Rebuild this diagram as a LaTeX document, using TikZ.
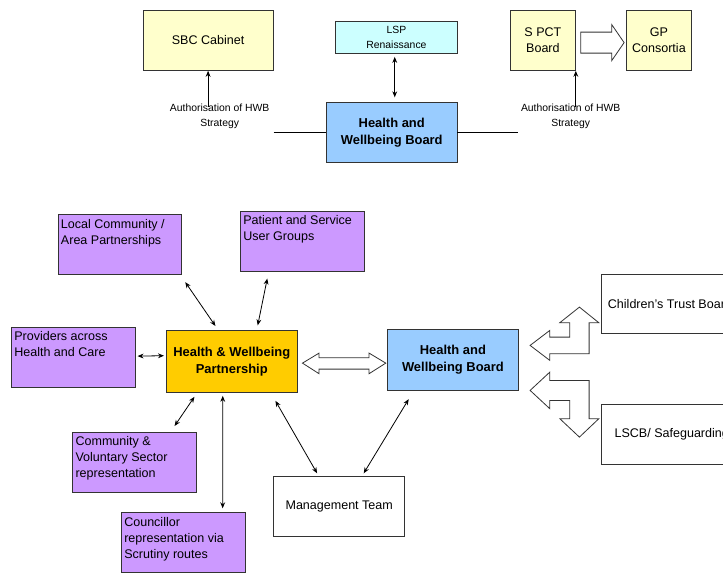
\documentclass[tikz,border=0pt]{standalone}
\usepackage{fontspec}
\setmainfont{Liberation Sans}
\usetikzlibrary{arrows.meta}

\definecolor{paleyellow}{HTML}{FFFFCC}
\definecolor{palecyan}{HTML}{CCFFFF}
\definecolor{hwbblue}{HTML}{99CCFF}
\definecolor{lilac}{HTML}{CC99FF}
\definecolor{gold}{HTML}{FFCC00}

\begin{document}
\begin{tikzpicture}[x=0.75pt, y=-0.75pt,
  every node/.style={inner sep=0pt, font=\fontsize{9.4}{12}\selectfont},
  box/.style={draw=black!80, line width=0.6pt, anchor=north west, align=center, minimum height=45pt},
  yellowbox/.style={box, fill=paleyellow},
  boldbox/.style={box, minimum width=98pt, font=\fontsize{9.7}{12.75}\selectfont\bfseries},
  purplebox/.style={box, fill=lilac, minimum width=92.8pt},
  whitebox/.style={box, fill=white},
  boxtext/.style={anchor=north west, align=left},
  small/.style={font=\fontsize{7.8}{11}\selectfont, align=center},
  tip/.style={-{Stealth[length=4.5pt,width=3.6pt]}, line width=0.6pt},
  link/.style={{Stealth[length=4.5pt,width=3.6pt]}-{Stealth[length=4.5pt,width=3.6pt]}, line width=0.6pt},
  blockarrow/.style={draw=black!80, line width=0.6pt, fill=white, line join=miter}
]
\useasboundingbox (0,0) rectangle (723,572);
\clip (0,0) rectangle (723,572);

% top row
\node[yellowbox, minimum width=97.5pt] (sbc) at (142.7,10) {SBC Cabinet};
\node[box, fill=palecyan, minimum width=92pt, minimum height=24.5pt, small] (lsp) at (334.7,20.7) {LSP\\Renaissance};
\node[yellowbox, minimum width=48.75pt] (spct) at (510,10) {S PCT\\Board};
\node[yellowbox, minimum width=48.75pt] (gp) at (626,10) {GP\\Consortia};
\node[boldbox, fill=hwbblue, minimum height=44.5pt] (hwbtop) at (326,102.3) {Health and\\Wellbeing Board};

\node[small] (authl) at (219.7,116.3) {Authorisation of HWB\\Strategy};
\node[small] (authr) at (570.7,116.3) {Authorisation of HWB\\Strategy};

\draw[tip] ([yshift=-2]sbc.south |- authl.north) -- (sbc.south);
\draw[tip] ([yshift=-2]spct.south east |- authr.north) -- (spct.south east);
\draw[line width=0.6pt] (sbc.east |- hwbtop.west) -- (hwbtop.west);
\draw[line width=0.6pt] (hwbtop.east) -- ++(61,0);
\draw[link] ([shift={(-1.7,2.7)}]lsp.south) -- ([shift={(3,-5)}]hwbtop.north);

% S PCT -> GP
\draw[blockarrow] ([shift={(5,-8.3)}]spct.east) -- ++(31,0) -- ++(0,-7.4) -- ++(12.3,17.9)
  -- ++(-12.3,17.9) -- ++(0,-7.4) -- ++(-31,0) -- cycle;

% partnership and its groups
\node[purplebox] (local) at (57.7,214.3) {};
\node[boxtext] (localtext) at ([shift={(3,4.5)}]local.north west) {Local Community /\\Area Partnerships};
\node[purplebox] (patient) at (240,210.7) {};
\node[boxtext] (patienttext) at ([shift={(3,4.5)}]patient.north west) {Patient and Service\\User Groups};
\node[purplebox] (providers) at (11,326.7) {};
\node[boxtext] (providerstext) at ([shift={(3,4.5)}]providers.north west) {Providers across\\Health and Care};
\node[purplebox] (community) at (72.3,431.7) {};
\node[boxtext] (communitytext) at ([shift={(3,4.5)}]community.north west) {Community \&\\Voluntary Sector\\representation};
\node[purplebox] (councillor) at (121,512.3) {};
\node[boxtext] (councillortext) at ([shift={(3,4.5)}]councillor.north west) {Councillor\\representation via\\Scrutiny routes};

\node[boldbox, fill=gold, minimum height=46.5pt] (hwp) at (166,330.3) {Health \& Wellbeing\\Partnership};
\node[boldbox, fill=hwbblue, minimum width=98.7pt, minimum height=45.75pt] (hwb) at (386.7,329) {Health and\\Wellbeing Board};
\node[whitebox, minimum width=98.25pt] (mgt) at (273.3,476) {Management Team};

\node[whitebox, minimum width=120pt, minimum height=44.5pt] (ctb) at (601,274) {};
\node[anchor=west] (ctbtext) at ([xshift=5]ctb.west) {Children's Trust Board};
\node[whitebox, minimum width=120pt] (lscb) at (601,404) {};
\node[anchor=west] (lscbtext) at ([xshift=10]lscb.west) {LSCB/ Safeguarding};

% connectors
\draw[link] ([shift={(65.3,7)}]local.south) -- ([shift={(-16.3,-4.3)}]hwp.north);
\draw[link] ([shift={(-35,7)}]patient.south) -- ([shift={(26,-5)}]hwp.north);
\draw[link] ([shift={(2,-1)}]providers.east) -- ([shift={(-2,-6)}]hwp.west);
\draw[link] ([shift={(-37.3,3.7)}]hwp.south) -- ([shift={(40,-5.7)}]community.north);
\draw[link] ([shift={(-9,2.7)}]hwp.south) -- ([shift={(39.4,-4)}]councillor.north);
\draw[link] ([shift={(43.7,7.7)}]hwp.south) -- ([shift={(-22.1,-2.7)}]mgt.north);
\draw[link] ([shift={(-44.2,8.3)}]hwb.south) -- ([shift={(24.5,-2.7)}]mgt.north);

% partnership <-> board
\draw[blockarrow] ([shift={(5,1.4)}]hwp.east) -- ++(16.6,-10) -- ++(0,4.6) -- ++(50,0) -- ++(0,-4.6)
  -- ++(16.7,10) -- ++(-16.7,10.6) -- ++(0,-4.6) -- ++(-50,0) -- ++(0,4.6) -- cycle;

% board <-> children's trust
\draw[blockarrow] ([shift={(11,-14.5)}]hwb.east) -- ++(19.7,-15) -- ++(0,6.7) -- ++(20,0) -- ++(0,-14.4)
  -- ++(-10,0) -- ++(19.6,-15.6) -- ++(19.4,15.6) -- ++(-9.7,0) -- ++(0,31) -- ++(-39.3,0)
  -- ++(0,6.7) -- cycle;
% board <-> LSCB
\draw[blockarrow] ([shift={(11,30.5)}]hwb.east) -- ++(19.7,-18.3) -- ++(0,8.3) -- ++(39.3,0) -- ++(0,38.3)
  -- ++(9.7,0) -- ++(-19.4,18.4) -- ++(-19.6,-18.4) -- ++(10,0) -- ++(0,-18.3) -- ++(-20,0)
  -- ++(0,8.3) -- cycle;
\end{tikzpicture}
\end{document}
